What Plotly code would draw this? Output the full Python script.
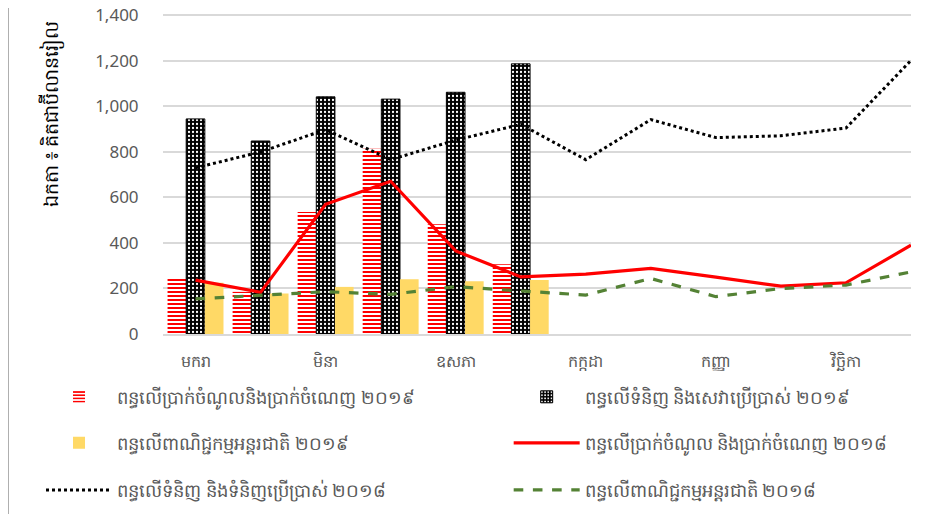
import plotly.graph_objects as go

months = ["មករា", "កុម្ភៈ", "មិនា", "មេសា", "ឧសភា", "មិថុនា",
          "កក្កដា", "សីហា", "កញ្ញា", "តុលា", "វិច្ឆិកា", "ធ្នូ"]
tick_months = ["មករា", "មិនា", "ឧសភា", "កក្កដា", "កញ្ញា", "វិច្ឆិកា"]

income_2019 = [250, 185, 536, 814, 482, 306]
goods_2019 = [945, 848, 1042, 1032, 1062, 1187]
trade_2019 = [225, 178, 207, 241, 232, 237]

income_2018 = [237, 183, 570, 671, 365, 251, 263, 288, 250, 210, 225, 390]
goods_2018 = [730, 800, 898, 766, 852, 921, 766, 942, 863, 871, 905, 1202]
trade_2018 = [154, 171, 186, 174, 208, 189, 171, 244, 164, 200, 215, 273]

names = [
    "ពន្ធលើប្រាក់ចំណូលនិងប្រាក់ចំណេញ ២០១៩",
    "ពន្ធលើទំនិញ និងសេវាប្រើប្រាស់ ២០១៩",
    "ពន្ធលើពាណិជ្ជកម្មអន្តរជាតិ ២០១៩",
    "ពន្ធលើប្រាក់ចំណូល និងប្រាក់ចំណេញ ២០១៨",
    "ពន្ធលើទំនិញ និងទំនិញប្រើប្រាស់ ២០១៨",
    "ពន្ធលើពាណិជ្ជកម្មអន្តរជាតិ ២០១៨",
]
y_title = "ឯកតា ៖ គិតជាប៊ីលានរៀល"

FONT = "Noto Sans, DejaVu Sans, sans-serif"
TXT = "#595959"

fig = go.Figure()
fig.add_trace(go.Bar(
    x=months[:6], y=income_2019, name=names[0], legend="legend",
    marker=dict(color="white", line=dict(width=0),
                pattern=dict(shape="-", fgcolor="#FF0000", bgcolor="white",
                             size=4, solidity=0.5, fillmode="replace")),
))
fig.add_trace(go.Bar(
    x=months[:6], y=goods_2019, name=names[1], legend="legend2",
    marker=dict(color="black", line=dict(width=1, color="black"),
                pattern=dict(shape=".", fgcolor="white", bgcolor="black",
                             size=4, solidity=0.25, fillmode="replace")),
))
fig.add_trace(go.Bar(
    x=months[:6], y=trade_2019, name=names[2], legend="legend3",
    marker=dict(color="#FFD966", line=dict(width=0)),
))
fig.add_trace(go.Scatter(
    x=months, y=income_2018, name=names[3], mode="lines", legend="legend4",
    line=dict(color="#FF0000", width=3.2),
))
fig.add_trace(go.Scatter(
    x=months, y=goods_2018, name=names[4], mode="lines", legend="legend5",
    line=dict(color="black", width=3, dash="dot"),
))
fig.add_trace(go.Scatter(
    x=months, y=trade_2018, name=names[5], mode="lines", legend="legend6",
    line=dict(color="#548235", width=3.2, dash="dash"),
))

leg_common = dict(orientation="v", xanchor="left", yanchor="middle",
                  xref="container", yref="container",
                  font=dict(family=FONT, size=18, color=TXT),
                  bgcolor="rgba(0,0,0,0)", itemwidth=66,
                  itemclick=False, itemdoubleclick=False)

col1, col2 = 0.036, 0.546
row1, row2, row3 = 0.231, 0.140, 0.047

fig.update_layout(
    width=917, height=506,
    margin=dict(l=155, r=14, t=6, b=180, autoexpand=False),
    paper_bgcolor="white", plot_bgcolor="white",
    barmode="group", bargap=0.14, bargroupgap=0,
    font=dict(family=FONT, size=16, color=TXT),
    showlegend=True,
    legend=dict(x=col1, y=row1, **leg_common),
    legend2=dict(x=col2, y=row1, **leg_common),
    legend3=dict(x=col1, y=row2, **leg_common),
    legend4=dict(x=col2, y=row2, **leg_common),
    legend5=dict(x=col1, y=row3, **leg_common),
    legend6=dict(x=col2, y=row3, **leg_common),
    xaxis=dict(type="category", categoryorder="array", categoryarray=months,
               tickmode="array", tickvals=tick_months, ticktext=tick_months,
               showgrid=False, showline=True, linecolor="#D9D9D9", linewidth=1.5,
               zeroline=False,
               ticks="outside", ticklen=12, tickcolor="rgba(0,0,0,0)",
               tickfont=dict(family=FONT, size=16, color=TXT)),
    yaxis=dict(range=[0, 1406], tickmode="array",
               tickvals=[0, 200, 400, 600, 800, 1000, 1200, 1400], tickformat=",",
               showgrid=True, gridcolor="#D9D9D9", gridwidth=1.5,
               zeroline=False, showline=False, ticklabeloverflow="allow",
               ticks="outside", ticklen=20, tickcolor="rgba(0,0,0,0)",
               tickfont=dict(family=FONT, size=17, color=TXT)),
)

fig.add_annotation(text=y_title, textangle=-90, showarrow=False,
                   xref="paper", yref="paper", x=-0.15, y=0.687,
                   xanchor="center", yanchor="middle",
                   font=dict(family=FONT, size=19, color="black"))

fig.add_shape(type="line", xref="paper", yref="paper",
              x0=-0.208, x1=-0.208, y0=-0.6, y1=1.03,
              line=dict(color="#404040", width=2))

fig.write_html("out.html")
